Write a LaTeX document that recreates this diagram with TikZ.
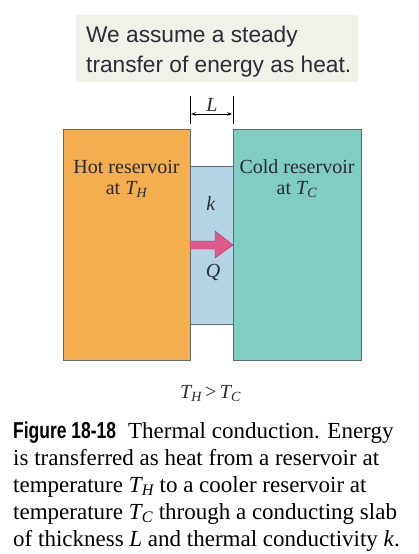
\documentclass[tikz,border=0pt]{standalone}
\usepackage{fontspec}
\setmainfont{Liberation Serif}
\newfontfamily\notefont{Liberation Sans}
\usetikzlibrary{arrows.meta}
\definecolor{hotc}{HTML}{F5AE4F}
\definecolor{coldc}{HTML}{80CDC1}
\definecolor{slabc}{HTML}{B5D5E5}
\definecolor{edgec}{HTML}{5F6A72}
\definecolor{notebg}{HTML}{F0F1E9}
\definecolor{notetx}{HTML}{2A2D33}
\definecolor{txtc}{HTML}{2A2A33}
\definecolor{heatc}{HTML}{E0588A}
\definecolor{heatedge}{HTML}{A8345E}
\newcommand\myvar[1]{{\itshape #1\/}}
\newcommand\symTH{\myvar{T}\kern-0.05em\textsubscript{\itshape H}}
\newcommand\symTC{\myvar{T}\kern-0.05em\textsubscript{\itshape C}}
\tikzset{
  box/.style={draw=edgec, line width=0.8pt},
  lbl/.style={font=\fontsize{20}{21}\selectfont, text=txtc, inner sep=0pt, align=center},
  captext/.style={anchor=base west, inner sep=0pt, font=\fontsize{23}{24}\selectfont, text=black},
  dimline/.style={line width=0.7pt, draw=black}
}
\begin{document}
\begin{tikzpicture}[x=1pt,y=-1pt]
\useasboundingbox (0,0) rectangle (418,554);
% note
\fill[notebg] (75.5,15) rectangle (357.5,82);
\node[anchor=base west, inner sep=0pt, text=notetx, font=\notefont\fontsize{22.7}{30}\selectfont] (n1) at (86,42) {We assume a steady};
\node[anchor=base west, inner sep=0pt, text=notetx, font=\notefont\fontsize{22.7}{30}\selectfont] (n2) at (86,72) {transfer of energy as heat.};
% boxes
\path[box, fill=slabc] (190,166) rectangle (233,324);
\path[box, fill=hotc] (63,129) rectangle (190,360);
\path[box, fill=coldc] (233,129) rectangle (361,360);
\coordinate (hl) at (190,96);
\coordinate (hr) at (233,96);
\coordinate (hlb) at (190,124);
\coordinate (hrb) at (233,124);
\draw[dimline] (hl) -- (hlb);
\draw[dimline] (hr) -- (hrb);
\coordinate (da) at (191,114);
\coordinate (db) at (232,114);
\draw[line width=0.6pt, {Stealth[length=5pt,width=3.5pt]}-{Stealth[length=5pt,width=3.5pt]}] (da) -- (db);
\node[lbl, anchor=base] (L) at (212,111) {\myvar{L}};
% labels
\node[lbl, anchor=base] (h1) at (126.5,173) {Hot reservoir};
\node[lbl, anchor=base] (h2) at (126.5,194) {at \symTH};
\node[lbl, anchor=base] (c1) at (297,173) {Cold reservoir};
\node[lbl, anchor=base] (c2) at (297,194) {at \symTC};
\node[lbl, anchor=base] (k) at (211,210) {\myvar{k}};
\node[lbl, anchor=base] (Q) at (213,277) {\myvar{Q}};
% heat arrow
\path[fill=heatc, draw=heatedge, line width=0.4pt] (190,241) -- (215,241) -- (215,231) -- (233,245) -- (215,258) -- (215,249) -- (190,249) -- cycle;
\node[lbl, anchor=base] (ineq) at (210.5,398) {\symTH\,>\,\symTC};
% caption
\node[captext] (l1) at (13,438) {{\notefont\bfseries\scalebox{0.76}[1]{Figure 18-18}}\hspace{12pt}Thermal conduction. Energy};
\node[captext] (l2) at (13,465) {is transferred as heat from a reservoir at};
\node[captext] (l3) at (13,492) {temperature \symTH{} to a cooler reservoir at};
\node[captext] (l4) at (13,519) {temperature \symTC{} through a conducting slab};
\node[captext] (l5) at (13,546) {of thickness \myvar{L} and thermal conductivity \myvar{k}.};
\end{tikzpicture}
\end{document}
